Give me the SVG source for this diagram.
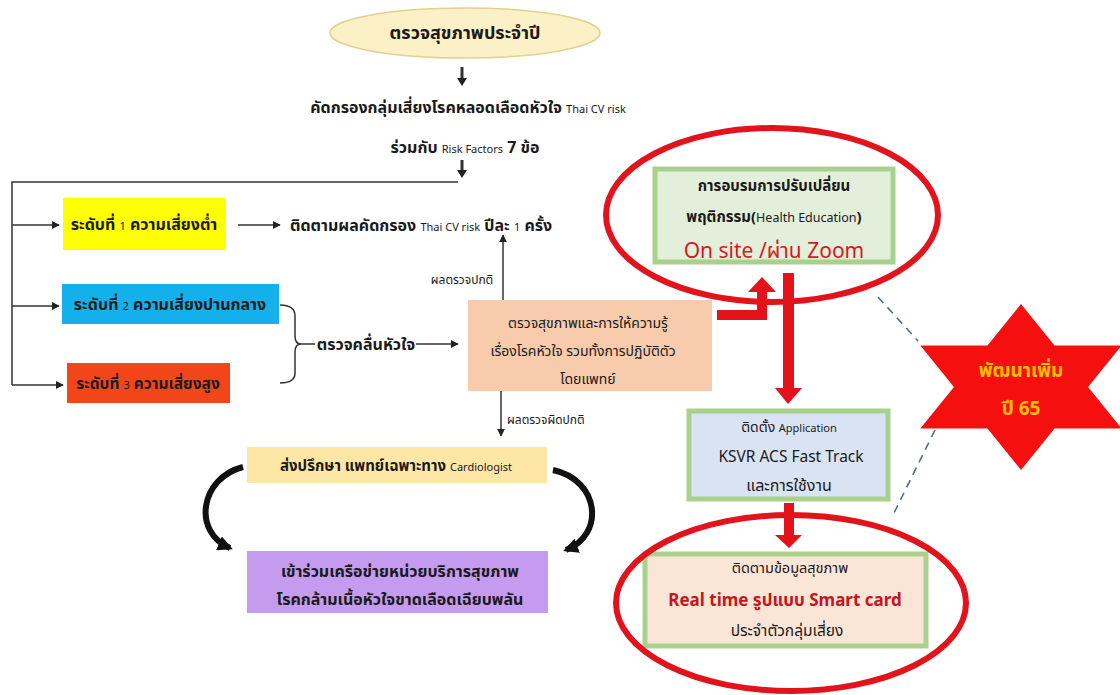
<svg xmlns="http://www.w3.org/2000/svg" width="1120" height="695" viewBox="0 0 1120 695">
<style>
text{font-family:"Noto Sans","Noto Sans Thai","DejaVu Sans",sans-serif;fill:#1a1a1a}
.b{font-weight:bold;font-size:16px}
.s{font-size:11px;font-weight:normal}
.n{font-size:14px}
.lab{font-size:12px}
.line{stroke:#333;stroke-width:1.5;fill:none}
.gbox{stroke:#a9d18e;stroke-width:5}
.ring{fill:none;stroke:#e3131b;stroke-width:6}
.red{fill:#e3131b}
</style>
<defs>
<marker id="ah" viewBox="0 0 10 10" refX="9" refY="5" markerWidth="8" markerHeight="8" orient="auto" markerUnits="userSpaceOnUse"><path d="M0,0 L10,5 L0,10 z" fill="#222"/></marker>
<marker id="ahb" viewBox="0 0 10 10" refX="8" refY="5" markerWidth="15" markerHeight="15" orient="auto" markerUnits="userSpaceOnUse"><path d="M0,0 L10,5 L0,10 z" fill="#111"/></marker>
</defs>

<g id="connectors">
<line class="line" x1="462" y1="67" x2="462" y2="80" style="stroke-width:3"/>
<path d="M457,78 L467,78 L462,86 z" fill="#222"/>
<line class="line" x1="462" y1="160" x2="462" y2="172" style="stroke-width:3"/>
<path d="M457,170 L467,170 L462,178 z" fill="#222"/>
<polyline class="line" points="458,182 12,182 12,385"/>
<line class="line" x1="12" y1="225" x2="59" y2="225" marker-end="url(#ah)"/>
<line class="line" x1="12" y1="306" x2="59" y2="306" marker-end="url(#ah)"/>
<line class="line" x1="12" y1="385" x2="63" y2="385" marker-end="url(#ah)"/>
<line class="line" x1="238" y1="225" x2="280" y2="225" marker-end="url(#ah)"/>
<path class="line" d="M280,305 Q295,305 295,316 L295,336 Q295,344 301,344 Q295,344 295,352 L295,373 Q295,383 280,383"/>
<line class="line" x1="301" y1="344" x2="315" y2="344"/>
<line class="line" x1="416" y1="344" x2="458" y2="344" marker-end="url(#ah)"/>
<line class="line" x1="503" y1="300" x2="503" y2="235" marker-end="url(#ah)"/>
<line class="line" x1="501" y1="391" x2="501" y2="436" marker-end="url(#ah)"/>
<path d="M243,467 C200,478 192,532 230,548" fill="none" stroke="#111" stroke-width="6" marker-end="url(#ahb)"/>
<path d="M553,470 C600,480 605,535 566,550" fill="none" stroke="#111" stroke-width="6" marker-end="url(#ahb)"/>
<path class="red" d="M717,310 L757,310 L757,292 L748,292 L762,277 L776,292 L767,292 L767,320 L717,320 z"/>
<path class="red" d="M783,273 L794,273 L794,388 L802,388 L788,404 L775,388 L783,388 z"/>
<path class="red" d="M784,503 L794,503 L794,535 L802,535 L789,548 L775,535 L784,535 z"/>
<line x1="878" y1="297" x2="918" y2="341" stroke="#4f6e96" stroke-width="1.6" stroke-dasharray="8,6"/>
<line x1="935" y1="430" x2="893" y2="515" stroke="#4f6e96" stroke-width="1.6" stroke-dasharray="8,6"/>
</g>

<g id="start">
<ellipse cx="465" cy="33" rx="135" ry="25" fill="#fcf1c6" stroke="#e3d08e" stroke-width="1.5"/>
<text x="465" y="39" class="b" text-anchor="middle" style="font-size:18px">ตรวจสุขภาพประจำปี</text>
</g>

<g id="screen">
<text x="468" y="113" class="b" text-anchor="middle">คัดกรองกลุ่มเสี่ยงโรคหลอดเลือดหัวใจ <tspan class="s">Thai CV risk</tspan></text>
<text x="465" y="153" class="b" text-anchor="middle">ร่วมกับ <tspan class="s">Risk  Factors</tspan> 7 ข้อ</text>
</g>

<g id="level1">
<rect x="63" y="198" width="163" height="52" fill="#ffff00"/>
<text x="144" y="230" class="b" text-anchor="middle">ระดับที่ <tspan class="s">1</tspan> ความเสี่ยงต่ำ</text>
</g>
<g id="followup">
<text x="290" y="231" class="b">ติดตามผลคัดกรอง <tspan class="s">Thai CV risk</tspan> ปีละ <tspan class="s">1</tspan> ครั้ง</text>
</g>
<g id="level2">
<rect x="62" y="284" width="217" height="40" fill="#14b0eb"/>
<text x="170" y="310" class="b" text-anchor="middle">ระดับที่ <tspan class="s">2</tspan> ความเสี่ยงปานกลาง</text>
</g>
<g id="level3">
<rect x="67" y="363" width="163" height="40" fill="#f2461a"/>
<text x="148" y="389" class="b" text-anchor="middle" style="font-size:15.5px">ระดับที่ <tspan class="s">3</tspan> ความเสี่ยงสูง</text>
</g>
<g id="ekg">
<text x="366" y="350" class="b" text-anchor="middle">ตรวจคลื่นหัวใจ</text>
</g>
<g id="labels">
<text x="462" y="284" class="lab" text-anchor="middle">ผลตรวจปกติ</text>
<text x="507" y="424" class="lab">ผลตรวจผิดปกติ</text>
</g>
<g id="exam">
<rect x="468" y="300" width="244" height="91" fill="#f8cbad"/>
<text x="588" y="328" class="n" text-anchor="middle">ตรวจสุขภาพและการให้ความรู้</text>
<text x="583" y="356" class="n" text-anchor="middle">เรื่องโรคหัวใจ รวมทั้งการปฏิบัติตัว</text>
<text x="588" y="384" class="n" text-anchor="middle">โดยแพทย์</text>
</g>
<g id="consult">
<rect x="247" y="447" width="300" height="36" fill="#fde6a6"/>
<text x="396" y="471" class="b" text-anchor="middle" style="font-size:15px">ส่งปรึกษา แพทย์เฉพาะทาง <tspan class="s">Cardiologist</tspan></text>
</g>
<g id="network">
<rect x="247" y="551" width="301" height="62" fill="#c49bef"/>
<text x="400" y="577" class="b" text-anchor="middle">เข้าร่วมเครือข่ายหน่วยบริการสุขภาพ</text>
<text x="400" y="605" class="b" text-anchor="middle">โรคกล้ามเนื้อหัวใจขาดเลือดเฉียบพลัน</text>
</g>

<g id="education">
<rect x="655" y="169" width="238" height="93" fill="#e2efda" class="gbox"/>
<text x="774" y="191" class="b" text-anchor="middle" style="font-size:15px">การอบรมการปรับเปลี่ยน</text>
<text x="774" y="222" class="b" text-anchor="middle" style="font-size:15px">พฤติกรรม(<tspan style="font-size:12.5px;font-weight:normal">Health Education</tspan>)</text>
<text x="774" y="258" text-anchor="middle" style="font-size:21px;fill:#d8191e">On site /ผ่าน Zoom</text>
<ellipse cx="772" cy="215" rx="166" ry="87" class="ring"/>
</g>

<g id="app">
<rect x="689" y="411" width="199" height="88" fill="#dae3f3" class="gbox"/>
<text x="789" y="432" class="n" text-anchor="middle">ติดตั้ง <tspan class="s">Application</tspan></text>
<text x="791" y="462" text-anchor="middle" style="font-size:15.5px">KSVR ACS Fast Track</text>
<text x="789" y="491" text-anchor="middle" style="font-size:16px">และการใช้งาน</text>
</g>

<g id="smartcard">
<rect x="645" y="554" width="281" height="92" fill="#fbe5d6" class="gbox"/>
<text x="790" y="573" text-anchor="middle" style="font-size:14.5px">ติดตามข้อมูลสุขภาพ</text>
<text x="785" y="606" class="b" text-anchor="middle" style="fill:#c4161c;font-size:17px">Real time รูปแบบ Smart card</text>
<text x="787" y="636" text-anchor="middle" style="font-size:15.5px">ประจำตัวกลุ่มเสี่ยง</text>
<ellipse cx="791" cy="603" rx="175" ry="88" class="ring"/>
</g>

<g id="star">
<polygon transform="translate(1021,387) scale(1.4,1)" fill="#f50f0f" points="0,-83 23.95,-41.5 71.9,-41.5 47.9,0 71.9,41.5 23.95,41.5 0,83 -23.95,41.5 -71.9,41.5 -47.9,0 -71.9,-41.5 -23.95,-41.5"/>
<text x="1021" y="377" class="b" text-anchor="middle" style="font-size:19px;fill:#ffc000">พัฒนาเพิ่ม</text>
<text x="1021" y="415" class="b" text-anchor="middle" style="font-size:19px;fill:#ffc000">ปี 65</text>
</g>
</svg>
